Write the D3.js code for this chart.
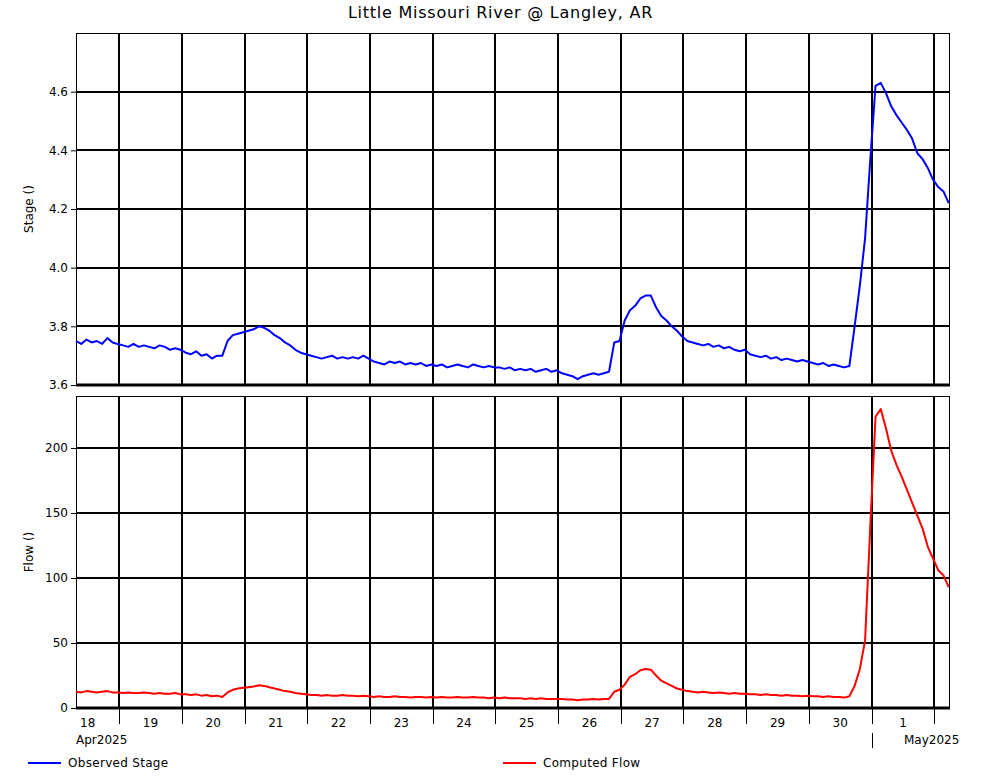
<!DOCTYPE html>
<html>
<head>
<meta charset="utf-8">
<script src="https://cdn.jsdelivr.net/npm/d3@7"></script>
<style>
  body { margin: 0; background: #fff; }
  text { font-family: "DejaVu Sans", Verdana, sans-serif; fill: #000; }
</style>
</head>
<body>
<div id="chart"></div>
<script>

// readings every 2 hours starting Apr 18 2025 07:30
var startTime = new Date(2025, 3, 18, 7, 30);
var endTime = new Date(2025, 4, 2, 6, 0);
var stepHours = 2;

var stageValues = [
  3.75, 3.74, 3.755, 3.745, 3.75, 3.74, 3.76, 3.745, 3.74,
  3.735, 3.73, 3.74, 3.73, 3.735, 3.73, 3.725, 3.735, 3.73, 3.72, 3.725, 3.72,
  3.71, 3.705, 3.715, 3.70, 3.705, 3.69, 3.70, 3.70,
  3.75, 3.77, 3.775, 3.78, 3.785, 3.79, 3.80, 3.795, 3.785, 3.77, 3.76, 3.745, 3.735, 3.72, 3.71, 3.705,
  3.70, 3.695, 3.69, 3.695, 3.70, 3.69, 3.695, 3.69, 3.695, 3.69, 3.70, 3.69,
  3.68, 3.675, 3.67, 3.68, 3.675, 3.68, 3.67, 3.675, 3.67, 3.675, 3.665, 3.67,
  3.665, 3.67, 3.66, 3.665, 3.67, 3.665, 3.66, 3.67, 3.665, 3.66, 3.665, 3.66,
  3.66, 3.655, 3.66, 3.65, 3.655, 3.65, 3.655, 3.645, 3.65, 3.655, 3.645, 3.65,
  3.64, 3.635, 3.63, 3.62, 3.63, 3.635, 3.64, 3.635, 3.64, 3.645, 3.745, 3.75,
  3.82, 3.855, 3.87, 3.895, 3.905, 3.905, 3.865, 3.835, 3.82, 3.80, 3.785, 3.765,
  3.75, 3.745, 3.74, 3.735, 3.74, 3.73, 3.735, 3.725, 3.73, 3.72, 3.715, 3.72,
  3.705, 3.70, 3.695, 3.70, 3.69, 3.695, 3.685, 3.69, 3.685, 3.68, 3.685, 3.68,
  3.675, 3.67, 3.675, 3.665, 3.67, 3.665, 3.66, 3.665,
  3.80, 3.94, 4.10, 4.37, 4.62, 4.63, 4.595, 4.55, 4.52, 4.495, 4.47, 4.44,
  4.39, 4.37, 4.34, 4.30, 4.275, 4.26, 4.22
];

var flowValues = [
  12.5, 12, 13, 12.5, 12, 12.5, 13, 12, 12,
  11.5, 12, 11.5, 11.5, 12, 11.5, 11, 11.5, 11, 11, 11.5, 10.5,
  10.5, 10, 10.5, 9.5, 10, 9, 9.5, 8.5,
  12, 14, 15, 15.5, 16, 16.5, 17.5, 17, 16, 15, 14, 13, 12.5, 11.5, 11, 10.5,
  10, 10, 9.5, 10, 9.5, 9.5, 10, 9.5, 9.5, 9, 9.5, 9,
  8.5, 9, 8.5, 8.5, 9, 8.5, 8.5, 8, 8.5, 8.5, 8, 8.5,
  8, 8.5, 8, 8, 8.5, 8, 8, 8.5, 8, 8, 7.5, 8,
  7.5, 8, 7.5, 7.5, 7.5, 7, 7.5, 7, 7.5, 7, 7, 7,
  7, 6.5, 6.5, 6, 6.5, 6.5, 7, 6.5, 7, 7, 12.5, 14,
  18, 24, 26, 29, 30, 29.5, 25, 21, 19, 17, 15, 14,
  13, 12.5, 12, 12.5, 12, 11.5, 12, 11.5, 11, 11.5, 11, 11,
  10.5, 10.5, 10, 10.5, 10, 10, 9.5, 10, 9.5, 9.5, 9, 9.5,
  9, 9, 8.5, 9, 8.5, 8.5, 8, 9,
  17, 30, 52, 140, 224, 230, 215, 198, 187, 178, 168, 158,
  148, 138, 124, 115, 106, 102, 93
];

var stageTicks = [3.6, 3.8, 4.0, 4.2, 4.4, 4.6];
var flowTicks = [0, 50, 100, 150, 200];
var monthLabels = ["Apr2025", "May2025"];
var seriesNames = ["Observed Stage", "Computed Flow"];
var seriesColors = ["#0000ff", "#ff0000"];

var width = 1001,
    height = 780;
var plotLeft = 76, plotRight = 950;
var top1 = 33, bottom1 = 385, top2 = 396, bottom2 = 708;

var svg = d3.select("#chart").append("svg")
    .attr("width", width)
    .attr("height", height);

var x = d3.scaleTime()
    .domain([startTime, endTime])
    .range([plotLeft, plotRight]);

var yStage = d3.scaleLinear()
    .domain([3.6, 4.8])
    .range([bottom1, top1]);

var yFlow = d3.scaleLinear()
    .domain([0, 240])
    .range([bottom2, top2]);

function timeAt(i) {
  return d3.timeHour.offset(startTime, i * stepHours);
}

var midnights = d3.timeDay.range(d3.timeDay.ceil(startTime), endTime);
var noons = d3.timeDay.range(d3.timeDay.floor(startTime), endTime)
  .map(function(d) { return d3.timeHour.offset(d, 12); })
  .filter(function(d) { return d <= endTime; });

// draw one panel with grid, axis and line
function panel(y, top, bottom, ticks, fmt, values, color, title) {
  var g = svg.append("g");

  // frame
  g.append("rect")
    .attr("x", plotLeft + 0.5)
    .attr("y", top + 0.5)
    .attr("width", plotRight - plotLeft - 1)
    .attr("height", bottom - top)
    .attr("fill", "none")
    .attr("stroke", "#000")
    .attr("stroke-width", 1);

  // vertical grid at midnights
  g.selectAll(".vgrid").data(midnights).enter()
    .append("line")
    .attr("x1", function(d) { return Math.round(x(d)); })
    .attr("x2", function(d) { return Math.round(x(d)); })
    .attr("y1", top)
    .attr("y2", bottom)
    .attr("stroke", "#000")
    .attr("stroke-width", 2);

  // horizontal grid
  g.selectAll(".hgrid").data(ticks).enter()
    .append("line")
    .attr("x1", plotLeft)
    .attr("x2", plotRight)
    .attr("y1", function(d) { return Math.round(y(d)); })
    .attr("y2", function(d) { return Math.round(y(d)); })
    .attr("stroke", "#000")
    .attr("stroke-width", function(d, i) { return i === 0 ? 3 : 2; });

  var axis = d3.axisLeft(y)
    .tickValues(ticks)
    .tickSize(5)
    .tickPadding(3)
    .tickFormat(fmt);

  var ax = g.append("g")
    .attr("transform", "translate(" + plotLeft + ",0)")
    .call(axis);
  ax.select(".domain").remove();
  ax.selectAll("text")
    .attr("font-size", "12px")
    .style("font-family", "'DejaVu Sans', Verdana, sans-serif");

  g.append("text")
    .attr("transform", "translate(33," + (top + bottom) / 2 + ") rotate(-90)")
    .style("text-anchor", "middle")
    .attr("font-size", "12px")
    .text(title);

  var line = d3.line()
    .x(function(d, i) { return x(timeAt(i)); })
    .y(function(d) { return y(d); });

  g.append("path")
    .datum(values)
    .attr("d", line)
    .attr("fill", "none")
    .attr("stroke", color)
    .attr("stroke-width", 2)
    .attr("stroke-linejoin", "round");
}

panel(yStage, top1, bottom1, stageTicks, d3.format(".1f"), stageValues, seriesColors[0], "Stage ()");
panel(yFlow, top2, bottom2, flowTicks, d3.format("d"), flowValues, seriesColors[1], "Flow ()");

// title
svg.append("text")
  .attr("x", width / 2)
  .attr("y", 18)
  .style("text-anchor", "middle")
  .attr("font-size", "16px")
  .style("letter-spacing", "0.75px")
  .text("Little Missouri River @ Langley, AR");

// x axis ticks and day labels
svg.selectAll(".xtick").data(midnights).enter()
  .append("line")
  .attr("x1", function(d) { return Math.round(x(d)) + 0.5; })
  .attr("x2", function(d) { return Math.round(x(d)) + 0.5; })
  .attr("y1", bottom2)
  .attr("y2", bottom2 + 16)
  .attr("stroke", "#000")
  .attr("stroke-width", 1);

svg.selectAll(".daylabel").data(noons).enter()
  .append("text")
  .attr("x", function(d) { return x(d); })
  .attr("y", bottom2 + 19)
  .style("text-anchor", "middle")
  .attr("font-size", "12px")
  .text(d3.timeFormat("%-d"));

// month labels
var mayStart = new Date(2025, 4, 1);
svg.append("text")
  .attr("x", plotLeft)
  .attr("y", bottom2 + 36)
  .attr("font-size", "12px")
  .text(monthLabels[0]);

svg.append("text")
  .attr("x", x(d3.timeHour.offset(mayStart, 12)) + 1)
  .attr("y", bottom2 + 36)
  .attr("font-size", "12px")
  .text(monthLabels[1]);

svg.append("line")
  .attr("x1", Math.round(x(mayStart)) + 0.5)
  .attr("x2", Math.round(x(mayStart)) + 0.5)
  .attr("y1", bottom2 + 25)
  .attr("y2", bottom2 + 40)
  .attr("stroke", "#000")
  .attr("stroke-width", 1);

// legend
var legendX = [28, 503];
seriesNames.forEach(function(name, i) {
  svg.append("line")
    .attr("x1", legendX[i])
    .attr("x2", legendX[i] + 33)
    .attr("y1", 763)
    .attr("y2", 763)
    .attr("stroke", seriesColors[i])
    .attr("stroke-width", 2);
  svg.append("text")
    .attr("x", legendX[i] + 40)
    .attr("y", 767)
    .attr("font-size", "12px")
    .style("letter-spacing", "0.3px")
    .text(name);
});

</script>
</body>
</html>
